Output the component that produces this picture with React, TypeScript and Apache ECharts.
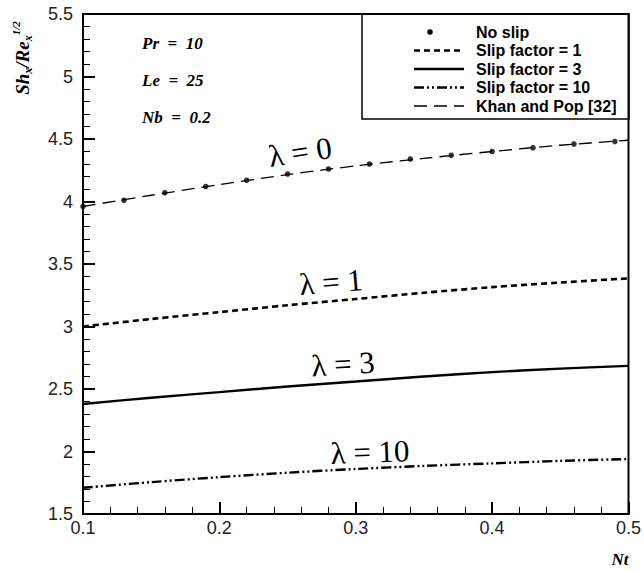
import React, { useEffect, useRef } from "react";
import * as echarts from "echarts";

// Nt values of the marker points (No slip)
const ntDots = [0.1, 0.13, 0.16, 0.19, 0.22, 0.25, 0.28, 0.31, 0.34, 0.37, 0.4, 0.43, 0.46, 0.49];
const noSlip = [3.96, 4.01, 4.07, 4.12, 4.17, 4.22, 4.26, 4.3, 4.34, 4.37, 4.4, 4.43, 4.46, 4.48];

// Nt values of the curves
const ntLine = [0.1, 0.15, 0.2, 0.25, 0.3, 0.35, 0.4, 0.45, 0.5];
const khanPop = [3.96, 4.05, 4.135, 4.215, 4.285, 4.345, 4.4, 4.45, 4.49];
const slip1 = [3.0, 3.06, 3.115, 3.17, 3.22, 3.27, 3.315, 3.352, 3.385];
const slip3 = [2.38, 2.43, 2.475, 2.52, 2.56, 2.6, 2.635, 2.663, 2.685];
const slip10 = [1.71, 1.755, 1.795, 1.83, 1.86, 1.885, 1.905, 1.925, 1.94];

const legendNames = ["No slip", "Slip factor = 1", "Slip factor = 3", "Slip factor = 10", "Khan and Pop [32]"];
const paramTexts = ["Pr = 10", "Le = 25", "Nb = 0.2"];
const curveLabels = ["λ = 0", "λ = 1", "λ = 3", "λ = 10"];

const SERIF = "'Liberation Serif', 'Times New Roman', serif";
const SANS = "'Liberation Sans', Arial, sans-serif";

const zip = (xs: number[], ys: number[]) => xs.map((x, i) => [x, ys[i]]);

export default function App() {
  const ref = useRef<HTMLDivElement>(null);

  useEffect(() => {
    document.body.style.margin = "0";
    if (!ref.current) return;
    const chart = echarts.init(ref.current, undefined, { renderer: "svg" });

    const dashes: (number[] | "solid")[] = [[0, 100], [6, 4], "solid", [10, 3, 2, 3, 2, 3], [13, 7]];
    const widths = [0, 2.6, 2.4, 2.4, 1.3];
    const rowsY = [32, 50.5, 69, 87.5, 106];

    const legendGraphics: any[] = [
      {
        type: "rect",
        shape: { x: 362, y: 14, width: 267, height: 105 },
        style: { fill: "none", stroke: "#000", lineWidth: 1.5 },
        z: 50,
      },
    ];
    legendNames.forEach((name, i) => {
      if (i === 0) {
        legendGraphics.push({
          type: "circle",
          shape: { cx: 430, cy: rowsY[i], r: 2.8 },
          style: { fill: "#000" },
          z: 51,
        });
      } else {
        legendGraphics.push({
          type: "line",
          shape: { x1: 414, y1: rowsY[i], x2: 464, y2: rowsY[i] },
          style: {
            stroke: "#000",
            lineWidth: widths[i],
            lineDash: dashes[i] === "solid" ? null : (dashes[i] as number[]),
          },
          z: 51,
        });
      }
      legendGraphics.push({
        type: "text",
        x: 476,
        y: rowsY[i],
        style: {
          text: name,
          font: `bold 16px ${SANS}`,
          fill: "#000",
          verticalAlign: "middle",
          align: "left",
        },
        z: 51,
      });
    });

    const paramGraphics = paramTexts.map((t, i) => ({
      type: "text",
      x: 142,
      y: [43, 80, 117][i],
      style: {
        text: t.replace(/ = /, "  =  "),
        font: `italic bold 17px ${SERIF}`,
        fill: "#000",
        verticalAlign: "middle",
        align: "left",
      },
    }));

    const labelPos = [
      [300, 152, 0.15],
      [331, 282, 0.08],
      [343, 364, 0.06],
      [370, 452, 0.035],
    ];
    const curveLabelGraphics = curveLabels.map((t, i) => ({
      type: "text",
      x: labelPos[i][0],
      y: labelPos[i][1],
      rotation: labelPos[i][2],
      style: {
        text: t,
        font: `31px ${SERIF}`,
        fill: "#000",
        align: "center",
        verticalAlign: "middle",
      },
      z: 40,
    }));

    const option: any = {
      animation: false,
      backgroundColor: "#fff",
      grid: {
        left: 83,
        right: 15,
        top: 14,
        bottom: 57,
        show: true,
        borderColor: "#000",
        borderWidth: 2,
        backgroundColor: "transparent",
      },
      xAxis: {
        type: "value",
        min: 0.1,
        max: 0.5,
        interval: 0.1,
        axisLine: { show: true, lineStyle: { color: "#000", width: 2 } },
        axisTick: { show: true, inside: true, length: 12, lineStyle: { color: "#000", width: 2 } },
        minorTick: { show: true, splitNumber: 5, length: 7, lineStyle: { color: "#000", width: 1 } },
        splitLine: { show: false },
        axisLabel: {
          margin: 5,
          fontSize: 18,
          fontFamily: SANS,
          color: "#222",
          formatter: (v: number) => String(Math.round(v * 10) / 10),
        },
      },
      yAxis: {
        type: "value",
        min: 1.5,
        max: 5.5,
        interval: 0.5,
        axisLine: { show: true, lineStyle: { color: "#000", width: 2 } },
        axisTick: { show: true, inside: true, length: 12, lineStyle: { color: "#000", width: 2 } },
        minorTick: { show: true, splitNumber: 5, length: 7, lineStyle: { color: "#000", width: 1 } },
        splitLine: { show: false },
        axisLabel: {
          margin: 10,
          fontSize: 18,
          fontFamily: SANS,
          color: "#222",
          formatter: (v: number) => String(Math.round(v * 10) / 10),
        },
      },
      series: [
        {
          name: legendNames[4],
          type: "line",
          data: zip(ntLine, khanPop),
          smooth: 0.3,
          showSymbol: false,
          lineStyle: { color: "#000", width: 1.3, type: [13, 7] },
          z: 3,
        },
        {
          name: legendNames[0],
          type: "scatter",
          data: zip(ntDots, noSlip),
          symbol: "circle",
          symbolSize: 5.5,
          itemStyle: { color: "#000" },
          z: 4,
        },
        {
          name: legendNames[1],
          type: "line",
          data: zip(ntLine, slip1),
          smooth: 0.3,
          showSymbol: false,
          lineStyle: { color: "#000", width: 2.6, type: [6, 4] },
        },
        {
          name: legendNames[2],
          type: "line",
          data: zip(ntLine, slip3),
          smooth: 0.3,
          showSymbol: false,
          lineStyle: { color: "#000", width: 2.4, type: "solid" },
        },
        {
          name: legendNames[3],
          type: "line",
          data: zip(ntLine, slip10),
          smooth: 0.3,
          showSymbol: false,
          lineStyle: { color: "#000", width: 2.4, type: [10, 3, 2, 3, 2, 3] },
        },
      ],
      graphic: [
        ...legendGraphics,
        ...paramGraphics,
        ...curveLabelGraphics,
        {
          type: "text",
          x: 22,
          y: 58,
          rotation: Math.PI / 2,
          style: {
            text: "{m|Sh}{sub|x}{m|/Re}{sub|x}{sup|1/2}",
            align: "center",
            verticalAlign: "middle",
            fill: "#000",
            rich: {
              m: { font: `italic bold 19px ${SERIF}`, lineHeight: 24, verticalAlign: "middle" },
              sub: { font: `italic bold 12px ${SERIF}`, lineHeight: 12, verticalAlign: "bottom" },
              sup: { font: `italic bold 11px ${SERIF}`, lineHeight: 12, verticalAlign: "top" },
            },
          },
        },
        {
          type: "text",
          x: 620,
          y: 559,
          style: {
            text: "Nt",
            font: `italic bold 17px ${SERIF}`,
            fill: "#000",
            align: "center",
            verticalAlign: "middle",
          },
        },
      ],
    };

    chart.setOption(option);
    return () => chart.dispose();
  }, []);

  return <div ref={ref} style={{ width: 644, height: 571 }} />;
}
